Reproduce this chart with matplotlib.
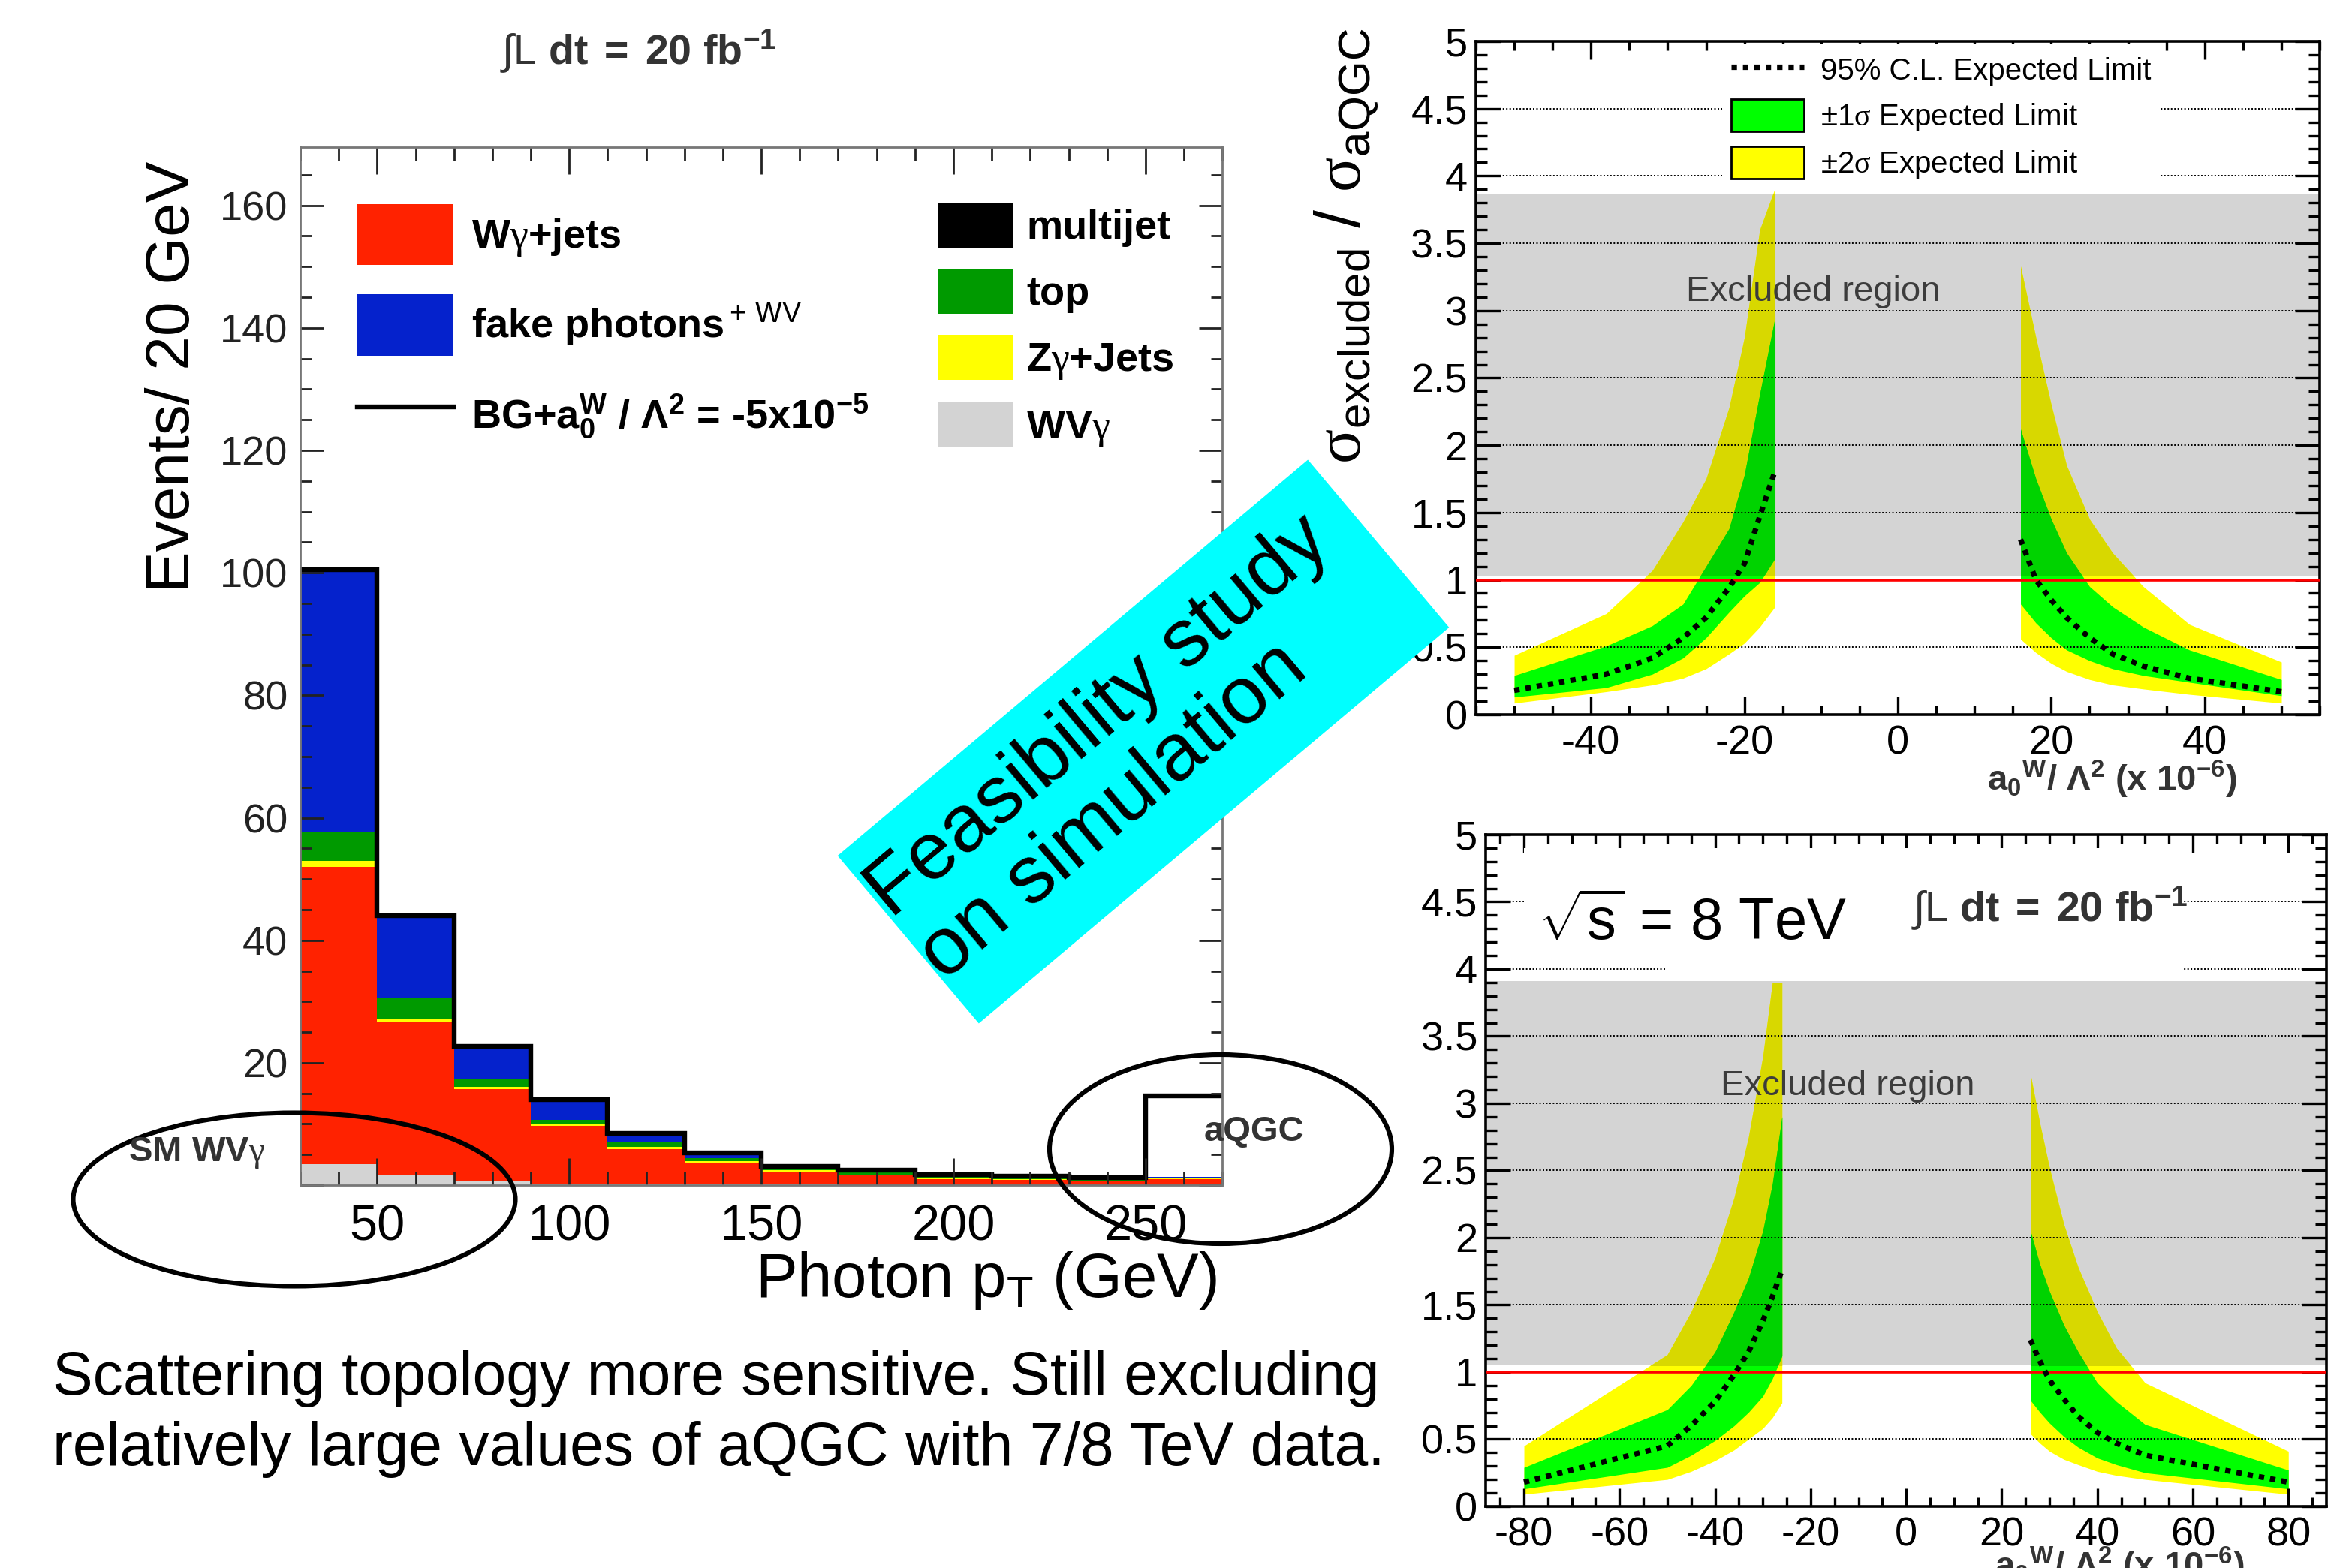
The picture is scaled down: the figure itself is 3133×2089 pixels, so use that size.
import matplotlib
matplotlib.use("Agg")
import matplotlib.pyplot as plt
import numpy as np
from matplotlib.patches import Ellipse, Polygon, Patch, Rectangle
from matplotlib.lines import Line2D
from matplotlib.ticker import MultipleLocator, FuncFormatter

plt.rcParams['font.family'] = ['Liberation Sans', 'DejaVu Sans']
plt.rcParams['mathtext.fontset'] = 'custom'
plt.rcParams['mathtext.rm'] = 'Liberation Sans'
plt.rcParams['mathtext.it'] = 'Liberation Sans:italic'
plt.rcParams['mathtext.bf'] = 'Liberation Sans:bold'
plt.rcParams['mathtext.sf'] = 'Liberation Serif'   # Times-like greek letters
plt.rcParams['axes.unicode_minus'] = False

# ---- photon pT distribution, events / 20 GeV
pt_edges = np.arange(30, 271, 20)
wvg_sm = [3.4, 1.6, 0.7, 0.3, 0.2, 0.1, 0.1, 0.05, 0.05, 0.05, 0.05, 0.05]
wg_jets = [48.6, 25.1, 15.0, 9.4, 5.7, 3.5, 2.1, 1.5, 1.0, 0.8, 0.7, 1.0]
zg_jets = [1.0, 0.4, 0.4, 0.4, 0.3, 0.3, 0.3, 0.2, 0.1, 0.1, 0.05, 0.05]
top_bg = [4.6, 3.6, 1.2, 0.6, 0.8, 0.5, 0.3, 0.3, 0.3, 0.2, 0.1, 0.05]
fake_ph = [43.0, 13.3, 5.5, 3.5, 1.2, 0.7, 0.2, 0.4, 0.3, 0.3, 0.4, 0.2]
multijet = [0.1, 0.05, 0.05, 0.05, 0.05, 0.05, 0.05, 0.05, 0.05, 0.05, 0.05, 0.05]
bg_plus_aqgc = [100.5, 44.0, 22.7, 14.0, 8.5, 5.3, 3.1, 2.4, 1.7, 1.5, 1.2, 14.6]

# ---- expected limits, upper panel (a0W/L^2 in 1e-6)
up_xl = [-50, -38, -32, -28, -25, -22, -20, -18, -16]
up_exp_l = [0.18, 0.30, 0.42, 0.57, 0.72, 0.94, 1.12, 1.47, 1.81]
up_s1lo_l = [0.13, 0.20, 0.30, 0.42, 0.57, 0.76, 0.88, 0.98, 1.16]
up_s1hi_l = [0.29, 0.51, 0.66, 0.82, 1.10, 1.38, 1.78, 2.38, 2.95]
up_s2lo_l = [0.085, 0.17, 0.22, 0.27, 0.34, 0.45, 0.53, 0.65, 0.80]
up_s2hi_l = [0.44, 0.75, 1.07, 1.43, 1.75, 2.28, 2.80, 3.60, 3.91]
up_xr = [16, 18, 20, 22, 25, 28, 32, 38, 50]
up_exp_r = [1.30, 1.00, 0.85, 0.72, 0.57, 0.45, 0.36, 0.27, 0.17]
up_s1lo_r = [0.82, 0.68, 0.57, 0.48, 0.40, 0.34, 0.29, 0.24, 0.14]
up_s1hi_r = [2.12, 1.75, 1.45, 1.20, 0.95, 0.80, 0.65, 0.48, 0.26]
up_s2lo_r = [0.56, 0.46, 0.38, 0.32, 0.26, 0.22, 0.19, 0.15, 0.085]
up_s2hi_r = [3.33, 2.80, 2.30, 1.85, 1.45, 1.20, 0.95, 0.67, 0.39]
up_excluded = (1.03, 3.865)

# ---- expected limits, lower panel (sqrt(s) = 8 TeV)
lo_xl = [-80, -50, -45, -40, -36, -33, -30, -28, -26]
lo_exp_l = [0.18, 0.45, 0.60, 0.78, 0.98, 1.15, 1.38, 1.56, 1.76]
lo_s1lo_l = [0.13, 0.29, 0.38, 0.49, 0.60, 0.70, 0.82, 0.95, 1.12]
lo_s1hi_l = [0.29, 0.72, 0.90, 1.15, 1.45, 1.70, 2.05, 2.40, 2.90]
lo_s2lo_l = [0.09, 0.20, 0.26, 0.34, 0.42, 0.50, 0.58, 0.66, 0.77]
lo_s2hi_l = [0.45, 1.13, 1.45, 1.85, 2.30, 2.75, 3.35, 3.90, 3.90]
lo_xr = [26, 28, 30, 33, 36, 40, 44, 50, 80]
lo_exp_r = [1.24, 1.08, 0.94, 0.80, 0.67, 0.55, 0.47, 0.38, 0.18]
lo_s1lo_r = [0.79, 0.70, 0.62, 0.52, 0.44, 0.36, 0.31, 0.25, 0.13]
lo_s1hi_r = [2.05, 1.80, 1.60, 1.35, 1.15, 0.92, 0.78, 0.61, 0.27]
lo_s2lo_r = [0.54, 0.47, 0.41, 0.35, 0.31, 0.26, 0.23, 0.20, 0.09]
lo_s2hi_r = [3.22, 2.85, 2.52, 2.10, 1.78, 1.45, 1.18, 0.92, 0.41]
lo_excluded = (1.05, 3.91)

W, H = 3133, 2089
fig = plt.figure(figsize=(W / 200, H / 200), dpi=200)

GAM = r"$\mathsf{\gamma}$"

# ================= left: stacked photon pT =================
ax0 = fig.add_axes([0.1277, 0.2441, 0.392, 0.662])
stack = [(wvg_sm, '#d3d3d3', 'WV' + GAM), (wg_jets, '#ff2200', 'W' + GAM + '+jets'),
         (zg_jets, '#ffff00', 'Z' + GAM + '+Jets'), (top_bg, '#009a00', 'top'),
         (fake_ph, '#0522cc', 'fake photons$^{\\rm +\\,WV}$'),
         (multijet, 'black', 'multijet')]
base = np.zeros(len(wvg_sm))
hs = []
for vals, col, lab in stack:
    hs.append(ax0.stairs(base + np.array(vals), pt_edges, baseline=base.copy(),
                         fill=True, color=col, lw=0, label=lab))
    base = base + np.array(vals)
ax0.stairs(bg_plus_aqgc, pt_edges, baseline=None, color='black', lw=2.3)

ax0.set_xlim(30, 270)
ax0.set_ylim(0, 169.5)
ax0.xaxis.set_major_locator(MultipleLocator(50))
ax0.xaxis.set_minor_locator(MultipleLocator(10))
ax0.yaxis.set_major_locator(MultipleLocator(20))
ax0.yaxis.set_minor_locator(MultipleLocator(5))
ax0.yaxis.set_major_formatter(FuncFormatter(lambda v, p: "" if v == 0 else f"{v:g}"))
ax0.tick_params(which='both', direction='in', top=True, right=True, width=1.0, color='#222')
ax0.tick_params(axis='x', which='major', length=13, pad=9, labelsize=24)
ax0.tick_params(axis='x', which='minor', length=6.5)
ax0.tick_params(axis='y', which='major', length=11, pad=6, labelsize=19.5, labelcolor='#222')
ax0.tick_params(axis='y', which='minor', length=5.5)
for s in ax0.spines.values():
    s.set_color('#777777')
    s.set_linewidth(1.0)
ax0.set_xlabel(r"Photon p$_{\rm T}$ (GeV)", fontsize=30, ha='right')
ax0.xaxis.set_label_coords(0.994, -0.062)
ax0.set_ylabel("Events/ 20 GeV", fontsize=29.5)
ax0.yaxis.set_label_coords(-0.138, 0.779)
ax0.yaxis.label.set_va('center')

leg1 = ax0.legend(handles=[hs[1], hs[4], Line2D([], [], color='black', lw=2.3)],
                  labels=['W' + GAM + '+jets', 'fake photons$^{\\rm +\\,WV}$',
                          r'BG+a$_\mathbf{0}^\mathbf{W}$ / $\mathbf{\Lambda^2}$ = -5x10$^\mathbf{-5}$'],
                  loc='upper left', bbox_to_anchor=(0.062, 0.945), frameon=False,
                  prop=dict(weight='bold', size=19.5), handlelength=2.35,
                  handleheight=1.93, labelspacing=0.72, handletextpad=0.45,
                  borderpad=0, borderaxespad=0)
ax0.add_artist(leg1)
ax0.legend(handles=[hs[5], hs[3], hs[2], hs[0]],
           labels=['multijet', 'top', 'Z' + GAM + '+Jets', 'WV' + GAM],
           loc='upper left', bbox_to_anchor=(0.692, 0.9465), frameon=False,
           prop=dict(weight='bold', size=19.5), handlelength=1.82,
           handleheight=1.32, labelspacing=0.52, handletextpad=0.34,
           borderpad=0, borderaxespad=0)


# ================= right: expected limit panels =================
def style_limit_axes(ax, xmax):
    ax.set_xlim(-xmax, xmax)
    ax.set_ylim(0, 5)
    ax.xaxis.set_major_locator(MultipleLocator(20))
    ax.xaxis.set_minor_locator(MultipleLocator(5))
    ax.yaxis.set_major_locator(MultipleLocator(0.5))
    ax.yaxis.set_minor_locator(MultipleLocator(0.1))
    ax.yaxis.set_major_formatter(FuncFormatter(lambda v, p: f"{v:g}"))
    ax.tick_params(which='both', direction='in', top=True, right=True, width=1.2,
                   labelsize=19.5)
    ax.tick_params(axis='y', which='major', length=12, pad=4)
    ax.tick_params(axis='y', which='minor', length=5.5)
    ax.tick_params(axis='x', which='major', length=8.5, pad=5)
    ax.tick_params(axis='x', which='minor', length=4.3)
    ax.yaxis.grid(True, which='major', color='black', ls=(0, (1, 1.3)), lw=0.7)
    ax.set_axisbelow(False)
    for s in ax.spines.values():
        s.set_linewidth(1.3)


def draw_branch(ax, x, exp, s1lo, s1hi, s2lo, s2hi, clip):
    ax.fill_between(x, s2lo, s2hi, color='#ffff00', lw=0, zorder=1)
    d = ax.fill_between(x, s2lo, s2hi, color='#d8d800', lw=0, zorder=1.1)
    d.set_clip_path(clip)
    ax.fill_between(x, s1lo, s1hi, color='#00ff00', lw=0, zorder=1.2)
    d = ax.fill_between(x, s1lo, s1hi, color='#00d300', lw=0, zorder=1.3)
    d.set_clip_path(clip)
    ax.plot(x, exp, color='black', lw=2.6, ls=(0, (1, 1.1)), zorder=4)


xlab = r"$\mathbf{a_0{}^W/\ \Lambda^2\ (x\ 10^{-6})}$"
lumi = r"$\int\mathrm{L}\ \mathbf{dt\;=\;20\ fb^{-1}}$"

ax1 = fig.add_axes([0.6275, 0.5443, 0.3588, 0.4294])
style_limit_axes(ax1, 55)
ex1 = ax1.axhspan(*up_excluded, color='#d4d4d4', lw=0, zorder=0.5)
draw_branch(ax1, up_xl, up_exp_l, up_s1lo_l, up_s1hi_l, up_s2lo_l, up_s2hi_l, ex1)
draw_branch(ax1, up_xr, up_exp_r, up_s1lo_r, up_s1hi_r, up_s2lo_r, up_s2hi_r, ex1)
ax1.axhline(1, color='red', lw=1.3, zorder=3.5)
ax1.text(-11, 3.14, "Excluded region", fontsize=17, color='#3c3c3c',
         ha='center', va='center', zorder=3.2)
ax1.legend(handles=[Line2D([], [], color='black', lw=2.6, ls=(0, (1, 1.1))),
                    Patch(fc='#00ff00', ec='black', lw=1.0),
                    Patch(fc='#ffff00', ec='black', lw=1.0)],
           labels=['95% C.L. Expected Limit', r'±1$\mathsf{\sigma}$ Expected Limit',
                   r'±2$\mathsf{\sigma}$ Expected Limit'],
           loc='upper left', bbox_to_anchor=(0.292, 0.995), fontsize=14.5,
           frameon=True, facecolor='white', edgecolor='none', framealpha=1,
           fancybox=False, handlelength=2.4, handleheight=1.25, labelspacing=0.45,
           handletextpad=0.55, borderpad=0.3, borderaxespad=0)
ax1.set_xlabel(xlab, fontsize=17, color='#333333')
ax1.xaxis.set_label_coords(0.754, -0.066)
ax1.set_ylabel(r"$\mathsf{\sigma}_{\rm excluded}$ / $\mathsf{\sigma}_{\rm aQGC}$", fontsize=31)
ax1.yaxis.set_label_coords(-0.153, 0.696)
ax1.yaxis.label.set_va('center')

ax2 = fig.add_axes([0.6317, 0.0393, 0.3575, 0.4284])
style_limit_axes(ax2, 88)
ex2 = ax2.axhspan(*lo_excluded, color='#d4d4d4', lw=0, zorder=0.5)
draw_branch(ax2, lo_xl, lo_exp_l, lo_s1lo_l, lo_s1hi_l, lo_s2lo_l, lo_s2hi_l, ex2)
draw_branch(ax2, lo_xr, lo_exp_r, lo_s1lo_r, lo_s1hi_r, lo_s2lo_r, lo_s2hi_r, ex2)
ax2.axhline(1, color='red', lw=1.3, zorder=3.5)
ax2.text(-12.3, 3.13, "Excluded region", fontsize=17, color='#3c3c3c',
         ha='center', va='center', zorder=3.2)
ax2.add_patch(Rectangle((0.045, 0.85), 0.785, 0.13, transform=ax2.transAxes,
                        fc='white', ec='none', zorder=3))
ax2.add_patch(Rectangle((0.213, 0.79), 0.617, 0.065, transform=ax2.transAxes,
                        fc='white', ec='none', zorder=3))
ax2.text(0.246, 0.866, r"$\sqrt{\mathrm{s}}$ = 8 TeV", transform=ax2.transAxes,
         fontsize=28, ha='center', va='center', zorder=3.3)
ax2.text(0.671, 0.89, lumi, transform=ax2.transAxes, fontsize=20, color='#333333',
         ha='center', va='center', zorder=3.3)
ax2.set_xlabel(xlab, fontsize=17, color='#333333')
ax2.xaxis.set_label_coords(0.754, -0.058)

# ================= slide overlay =================
ov = fig.add_axes([0, 0, 1, 1], zorder=10)
ov.set_xlim(0, W)
ov.set_ylim(H, 0)
ov.axis('off')

ov.add_patch(Ellipse((392, 1598), 589, 231, fill=False, ec='black', lw=2.2))
ov.add_patch(Ellipse((1626, 1531), 456, 252, fill=False, ec='black', lw=2.2))
ov.text(262, 1536, "SM WV" + GAM, fontsize=17, weight='bold', color='#333333',
        ha='center', va='center')
ov.text(1670, 1508, "aQGC", fontsize=17, weight='bold', color='#333333',
        ha='center', va='center')
ov.text(850, 68, lumi, fontsize=20, color='#333333', ha='center', va='center')

# rotated cyan banner
ang = np.deg2rad(40.1)
u = np.array([np.cos(ang), -np.sin(ang)])
v = np.array([np.sin(ang), np.cos(ang)])
c = np.array([1523, 988])
L, S = 819, 292
corners = [c - u * L / 2 - v * S / 2, c + u * L / 2 - v * S / 2,
           c + u * L / 2 + v * S / 2, c - u * L / 2 + v * S / 2]
ov.add_patch(Polygon(corners, closed=True, fc='#00ffff', ec='none'))
ov.text(1499, 997, "Feasibility study\non simulation", fontsize=39, rotation=40.1,
        rotation_mode='anchor', ha='center', va='center', multialignment='left',
        linespacing=1.12)

ov.text(70, 1884, "Scattering topology more sensitive. Still excluding\n"
        "relatively large values of aQGC with 7/8 TeV data.",
        fontsize=29, ha='left', va='center', linespacing=1.3)

fig.savefig("out.png", dpi=200)
